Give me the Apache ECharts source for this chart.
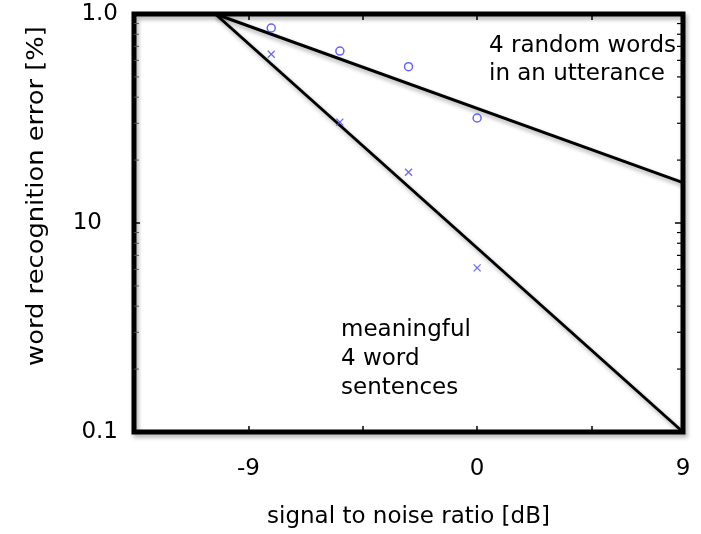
<!DOCTYPE html>
<html>
<head>
<meta charset="utf-8">
<script src="https://cdn.jsdelivr.net/npm/echarts@6/dist/echarts.min.js"></script>
<style>
  html, body { margin: 0; padding: 0; background: #fff; }
  #chart { width: 701px; height: 534px; }
</style>
</head>
<body>
<div id="chart"></div>
<script>
// Measured points: signal-to-noise ratio (dB) vs word recognition error
const snrDb = [-8.1, -5.4, -2.7, 0];
const randomWordsError = [85.7, 66.5, 56, 31.8];
const sentencesError = [64.2, 30.4, 17.5, 6.1];

// Fitted trend lines (end points)
const fitSnr = [-10.3, 8.1];
const randomWordsFit = [100, 15.6];
const sentencesFit = [100, 1];

// Axis ticks and labels
const xTickLabels = { '-9': '-9', '0': '0', '8.1': '9' };
const yTickValues = [1, 10, 100];
const yTickLabels = ['0.1', '10', '1.0'];
const yMinorTicks = [2, 3, 4, 5, 6, 7, 8, 9, 20, 30, 40, 50, 60, 70, 80, 90];

const X_MIN = -13.5, X_MAX = 8.1;
const FONT = 'DejaVu Sans';
const BLUE = '#3d3dff';

const lineShadow = {
  shadowColor: 'rgba(0,0,0,0.35)',
  shadowBlur: 4,
  shadowOffsetX: 2,
  shadowOffsetY: 3
};

const tickStyle = { color: '#000', width: 1.5 };

const chart = echarts.init(document.getElementById('chart'), null, { renderer: 'canvas' });

chart.setOption({
  animation: false,
  backgroundColor: '#fff',
  grid: {
    left: 134, right: 18, top: 14, bottom: 94,
    show: true,
    borderWidth: 5,
    borderColor: '#000',
    backgroundColor: 'transparent',
    shadowColor: 'rgba(0,0,0,0.3)',
    shadowBlur: 4,
    shadowOffsetX: 2,
    shadowOffsetY: 3
  },
  xAxis: [
    {
      type: 'value',
      min: X_MIN, max: X_MAX, interval: 4.5,
      axisLine: { show: false, onZero: false },
      splitLine: { show: false },
      axisTick: { inside: true, length: 6, lineStyle: tickStyle },
      axisLabel: {
        margin: 26,
        color: '#000',
        fontFamily: FONT,
        fontSize: 23,
        showMinLabel: false,
        showMaxLabel: true,
        formatter: v => {
          const key = String(Math.round(v * 10) / 10);
          return xTickLabels[key] !== undefined ? xTickLabels[key] : '';
        }
      },
      name: 'signal to noise ratio [dB]',
      nameLocation: 'middle',
      nameGap: 74,
      nameTextStyle: { color: '#000', fontFamily: FONT, fontSize: 23 }
    },
    {
      type: 'value',
      position: 'top',
      min: X_MIN, max: X_MAX, interval: 4.5,
      axisLine: { show: false, onZero: false },
      splitLine: { show: false },
      axisTick: { inside: true, length: 6, lineStyle: tickStyle },
      axisLabel: { show: false }
    }
  ],
  yAxis: [
    {
      type: 'log',
      logBase: 10,
      min: 1, max: 100,
      axisLine: { show: false, onZero: false },
      splitLine: { show: false },
      axisTick: { inside: true, length: 6, lineStyle: tickStyle },
      axisLabel: {
        margin: 16,
        color: '#000',
        fontFamily: FONT,
        fontSize: 23,
        formatter: v => {
          const i = yTickValues.findIndex(t => Math.abs(t - v) < 1e-6 * t);
          if (i < 0) return '';
          // the middle label sits a little further out from the frame
          return i === 1 ? '{mid|' + yTickLabels[i] + '}' : yTickLabels[i];
        },
        rich: {
          mid: { fontFamily: FONT, fontSize: 23, color: '#000', padding: [0, 16, 0, 0] }
        }
      }
    },
    {
      type: 'log',
      logBase: 10,
      position: 'right',
      min: 1, max: 100,
      axisLine: { show: false, onZero: false },
      splitLine: { show: false },
      axisTick: { inside: true, length: 8, lineStyle: tickStyle },
      axisLabel: { show: false }
    }
  ],
  series: [
    {
      // log-scale minor ticks along the left and right edges
      type: 'custom',
      silent: true,
      z: 1,
      data: yMinorTicks.map(v => [v]),
      renderItem: (params, api) => {
        const v = api.value(0);
        const l = api.coord([X_MIN, v]);
        const r = api.coord([X_MAX, v]);
        return {
          type: 'group',
          children: [
            { type: 'line', shape: { x1: l[0], y1: l[1], x2: l[0] + 5, y2: l[1] },
              style: { stroke: '#555', lineWidth: 1 } },
            { type: 'line', shape: { x1: r[0], y1: r[1], x2: r[0] - 6, y2: r[1] },
              style: { stroke: '#000', lineWidth: 1.2 } }
          ]
        };
      }
    },
    {
      name: 'random words fit',
      type: 'line',
      data: fitSnr.map((x, i) => [x, randomWordsFit[i]]),
      symbol: 'none',
      lineStyle: Object.assign({ color: '#000', width: 3 }, lineShadow),
      z: 2
    },
    {
      name: 'sentences fit',
      type: 'line',
      data: fitSnr.map((x, i) => [x, sentencesFit[i]]),
      symbol: 'none',
      lineStyle: Object.assign({ color: '#000', width: 3 }, lineShadow),
      z: 2
    },
    {
      name: '4 random words',
      type: 'scatter',
      data: snrDb.map((x, i) => [x, randomWordsError[i]]),
      symbol: 'circle',
      symbolSize: 8,
      itemStyle: { color: 'transparent', borderColor: BLUE, borderWidth: 1.5 },
      z: 3
    },
    {
      name: 'meaningful sentences',
      type: 'scatter',
      data: snrDb.map((x, i) => [x, sentencesError[i]]),
      symbol: 'path://M0,0L10,10M10,0L0,10',
      symbolSize: 7,
      itemStyle: { color: 'transparent', borderColor: BLUE, borderWidth: 1.2 },
      z: 3
    }
  ],
  graphic: [
    {
      // vertical axis title
      type: 'text',
      x: 37, y: 196,
      rotation: Math.PI / 2,
      scaleX: 1.12,
      style: {
        text: 'word recognition error [%]',
        font: '23px "DejaVu Sans"',
        fill: '#000',
        align: 'center',
        verticalAlign: 'middle'
      }
    },
    {
      type: 'text',
      left: 489, top: 32,
      style: {
        text: '4 random words\nin an utterance',
        font: '23px "DejaVu Sans"',
        fill: '#000',
        lineHeight: 28
      }
    },
    {
      type: 'text',
      left: 341, top: 316,
      style: {
        text: 'meaningful\n4 word\nsentences',
        font: '23px "DejaVu Sans"',
        fill: '#000',
        lineHeight: 29
      }
    }
  ]
});
</script>
</body>
</html>
